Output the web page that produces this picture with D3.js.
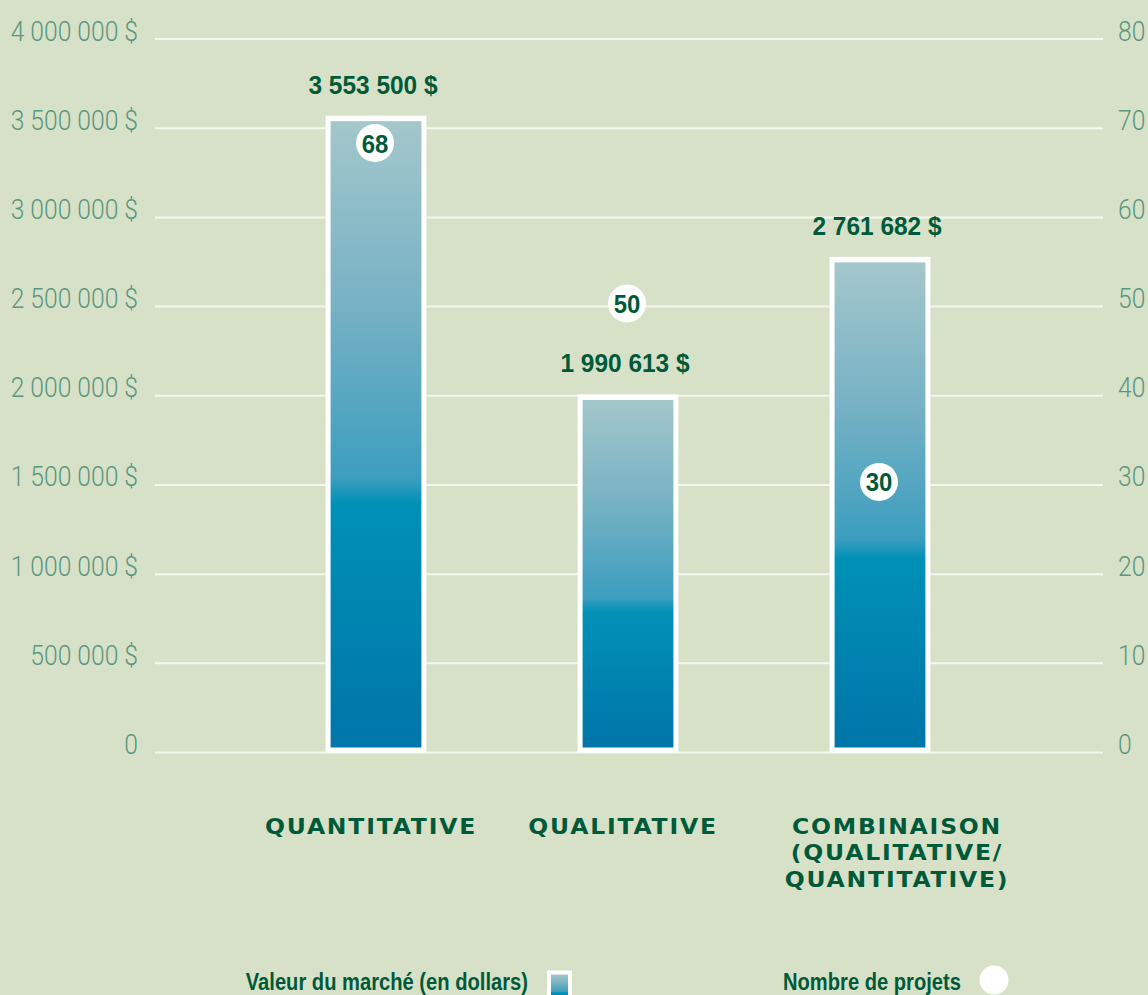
<!DOCTYPE html>
<html>
<head>
<meta charset="utf-8">
<script src="https://cdn.jsdelivr.net/npm/d3@7"></script>
<style>
  html, body { margin: 0; padding: 0; background: #d6e1c8; }
  svg { display: block; }
</style>
</head>
<body>
<script>
// ---- data ----
const categories = ["quantitative", "qualitative", "combinaison"];
const categoryLines = [["QUANTITATIVE"], ["QUALITATIVE"], ["COMBINAISON", "(QUALITATIVE/", "QUANTITATIVE)"]];
const marketValues = [3553500, 1990613, 2761682];
const projectCounts = [68, 50, 30];
const leftTicks = [0, 500000, 1000000, 1500000, 2000000, 2500000, 3000000, 3500000, 4000000];
const rightTicks = [0, 10, 20, 30, 40, 50, 60, 70, 80];
const legendLabels = ["Valeur du marché (en dollars)", "Nombre de projets"];

const W = 1148, H = 995;
const bg = "#d6e1c8";
const darkGreen = "#005a3a";
const axisColor = "#5b977f";
const lightFont = "Roboto, 'Liberation Sans', sans-serif";
const boldFont = "'Liberation Sans', Arial, sans-serif";

const svg = d3.select("body").append("svg").attr("width", W).attr("height", H);
svg.append("rect").attr("width", W).attr("height", H).attr("fill", bg);

const defs = svg.append("defs");
const grad = defs.append("linearGradient").attr("id", "barGrad")
  .attr("x1", 0).attr("y1", 0).attr("x2", 0).attr("y2", 1);
[[0, "#a3c7cb"], [0.3, "#76b1c4"], [0.57, "#3c9ebf"], [0.61, "#0091b7"], [1, "#0075a9"]]
  .forEach(([o, c]) => grad.append("stop").attr("offset", o).attr("stop-color", c));

const y = d3.scaleLinear().domain([0, 4000000]).range([752.5, 39]);
const y2 = d3.scaleLinear().domain([0, 80]).range([752.5, 39]);
const x = d3.scaleBand().domain(categories).range([250, 1006]).paddingInner(0.6).paddingOuter(0.3);

const fr = d3.formatLocale({ thousands: "\u00a0", grouping: [3], decimal: ",", currency: ["", ""] });
const fmt = fr.format(",d");
const money = v => v === 0 ? "0" : fmt(v) + " $";

// gridlines
svg.append("g").selectAll("line").data(leftTicks).join("line")
  .attr("x1", 155).attr("x2", 1103)
  .attr("y1", d => y(d)).attr("y2", d => y(d))
  .attr("stroke", "#f4f7f0").attr("stroke-width", 2);

// left axis
const leftAxis = d3.axisLeft(y).tickValues(leftTicks).tickFormat(money).tickSize(0).tickPadding(0);
const gl = svg.append("g").attr("transform", "translate(138,0)").call(leftAxis);
gl.select(".domain").remove();
gl.selectAll("text").attr("font-family", lightFont).attr("font-weight", 300).attr("font-size", 28)
  .attr("fill", axisColor).attr("dy", null).attr("x", 0).attr("y", 0)
  .attr("transform", "translate(0,1) scale(0.88,1)");

// right axis
const rightAxis = d3.axisRight(y2).tickValues(rightTicks).tickSize(0).tickPadding(0);
const gr = svg.append("g").attr("transform", "translate(1118,0)").call(rightAxis);
gr.select(".domain").remove();
gr.selectAll("text").attr("font-family", lightFont).attr("font-weight", 300).attr("font-size", 28)
  .attr("fill", axisColor).attr("dy", null).attr("x", 0).attr("y", 0)
  .attr("transform", "translate(0,1) scale(0.88,1)");

// bars
const bars = svg.append("g").selectAll("g").data(marketValues).join("g");
bars.append("rect")
  .attr("x", (d, i) => x(categories[i]))
  .attr("y", d => y(d) - 3)
  .attr("width", x.bandwidth())
  .attr("height", d => y(0) - y(d) + 3)
  .attr("fill", "#ffffff");
bars.append("rect")
  .attr("x", (d, i) => x(categories[i]) + 5)
  .attr("y", d => y(d) + 2.5)
  .attr("width", x.bandwidth() - 10)
  .attr("height", d => y(0) - y(d) - 7.5)
  .attr("fill", "url(#barGrad)");

// value labels
svg.append("g").selectAll("text").data(marketValues).join("text")
  .attr("transform", (d, i) => `translate(${x(categories[i]) + x.bandwidth() / 2 - 3},${y(d) - 25}) scale(0.94,1)`)
  .attr("text-anchor", "middle")
  .attr("font-family", boldFont).attr("font-weight", "bold").attr("font-size", 26)
  .attr("fill", darkGreen)
  .text(d => money(d));

// project circles
const pts = svg.append("g").selectAll("g").data(projectCounts).join("g")
  .attr("transform", (d, i) => `translate(${x(categories[i]) + x.bandwidth() / 2 - 1},${y2(d) - 3})`);
pts.append("circle").attr("r", 19).attr("fill", "#ffffff");
pts.append("text").attr("text-anchor", "middle")
  .attr("transform", "translate(0,9.5) scale(0.92,1)")
  .attr("font-family", boldFont).attr("font-weight", "bold").attr("font-size", 26)
  .attr("fill", darkGreen).text(d => d);

// category labels
const cat = svg.append("g").selectAll("text").data(categoryLines).join("text")
  .attr("transform", (lines, i) => `translate(${x(categories[i]) + x.bandwidth() / 2 + (i === 2 ? 17 : -5)},0) scale(1.12,1)`)
  .attr("text-anchor", "middle")
  .attr("font-family", "'DejaVu Sans', sans-serif").attr("font-weight", "bold")
  .attr("font-size", 21).attr("letter-spacing", 1.6)
  .attr("fill", darkGreen);
cat.each(function(lines) {
  d3.select(this).selectAll("tspan").data(lines).join("tspan")
    .attr("x", 0).attr("y", (l, j) => 834 + j * 26.5).text(l => l);
});

// legend
const lg = svg.append("g");
lg.append("text").attr("transform", "translate(528,990) scale(0.84,1)").attr("text-anchor", "end")
  .attr("font-family", boldFont).attr("font-weight", "bold").attr("font-size", 24)
  .attr("fill", darkGreen).text(legendLabels[0]);
lg.append("rect").attr("x", 547).attr("y", 970.5).attr("width", 25).attr("height", 30).attr("fill", "#ffffff");
lg.append("rect").attr("x", 551).attr("y", 974.5).attr("width", 17).attr("height", 30).attr("fill", "url(#barGrad)");
lg.append("text").attr("transform", "translate(961,990) scale(0.84,1)").attr("text-anchor", "end")
  .attr("font-family", boldFont).attr("font-weight", "bold").attr("font-size", 24)
  .attr("fill", darkGreen).text(legendLabels[1]);
lg.append("circle").attr("cx", 994).attr("cy", 980).attr("r", 14.5).attr("fill", "#ffffff");
</script>
</body>
</html>
